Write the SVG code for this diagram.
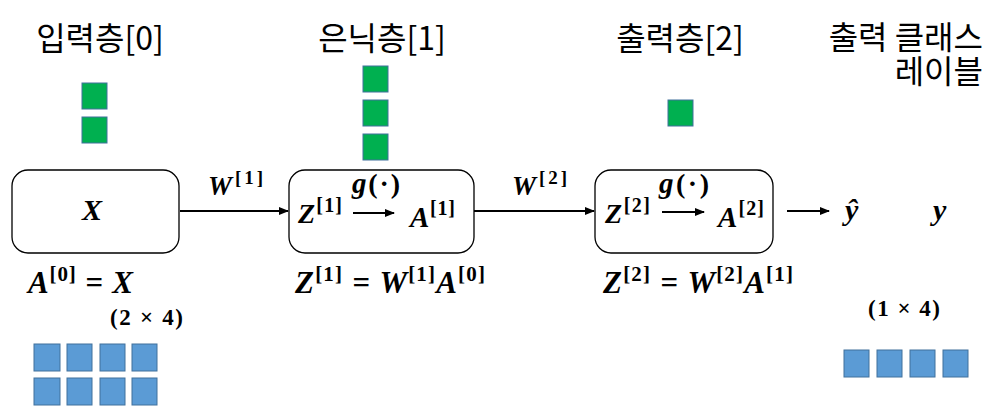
<svg xmlns="http://www.w3.org/2000/svg" width="1001" height="416" viewBox="0 0 1001 416">
<style>
.title{font-family:"Noto Sans CJK KR","Noto Sans",sans-serif;font-size:32px;fill:#000}
.m{font-family:"Liberation Serif","DejaVu Serif",serif;font-weight:bold;font-style:italic;fill:#000}
.n{font-family:"Liberation Serif","DejaVu Serif",serif;font-weight:bold;font-style:normal;fill:#000}
.box{fill:#fff;stroke:#000;stroke-width:1.3}
.g{fill:#00B050;stroke:#41719C;stroke-width:1}
.b{fill:#5B9BD5;stroke:#41719C;stroke-width:1}
.c{stroke:#000;stroke-width:2;fill:none}
</style>
<defs>
<marker id="ah" viewBox="0 0 10 10" refX="9" refY="5" markerWidth="5" markerHeight="5" orient="auto" markerUnits="strokeWidth">
<path d="M0,1 L10,5 L0,9 Z" fill="#000"/>
</marker>
</defs>
<rect width="1001" height="416" fill="#fff"/>
<g id="titles">
<text class="title" x="100" y="50" text-anchor="middle">입력층[0]</text>
<text class="title" x="382" y="50" text-anchor="middle">은닉층[1]</text>
<text class="title" x="680" y="50" text-anchor="middle">출력층[2]</text>
<text class="title" text-anchor="end"><tspan x="983" y="49">출력 클래스</tspan><tspan x="983" y="83">레이블</tspan></text>
</g>
<g id="input-neurons">
<rect class="g" x="82" y="83" width="25" height="26"/>
<rect class="g" x="82" y="117" width="25" height="26"/>
</g>
<g id="hidden-neurons">
<rect class="g" x="363" y="66" width="25" height="26"/>
<rect class="g" x="363" y="100" width="25" height="26"/>
<rect class="g" x="363" y="134" width="25" height="26"/>
</g>
<g id="output-neurons">
<rect class="g" x="668" y="100" width="25" height="26"/>
</g>
<g id="input-box">
<rect class="box" x="12" y="170" width="167" height="83" rx="16"/>
<text class="m" x="92" y="220" font-size="30" text-anchor="middle">X</text>
</g>
<g id="hidden-box">
<rect class="box" x="289" y="170" width="185" height="83" rx="16"/>
<text class="m" x="298" y="223" font-size="28" textLength="44">Z<tspan class="n" font-size="20" dy="-11">[1]</tspan></text>
<text class="m" x="352" y="193" font-size="29" textLength="48">g<tspan class="n" font-size="28">(·)</tspan></text>
<text class="m" x="410" y="227" font-size="29" textLength="45">A<tspan class="n" font-size="20" dy="-12">[1]</tspan></text>
</g>
<g id="output-box">
<rect class="box" x="595" y="170" width="178" height="83" rx="16"/>
<text class="m" x="605" y="223" font-size="28" textLength="45">Z<tspan class="n" font-size="20" dy="-11">[2]</tspan></text>
<text class="m" x="659" y="193" font-size="29" textLength="50">g<tspan class="n" font-size="28">(·)</tspan></text>
<text class="m" x="718" y="227" font-size="29" textLength="46">A<tspan class="n" font-size="20" dy="-12">[2]</tspan></text>
</g>
<g id="connectors">
<line class="c" x1="180" y1="211" x2="288" y2="211" marker-end="url(#ah)"/>
<line class="c" x1="474" y1="211" x2="594" y2="211" marker-end="url(#ah)"/>
<line class="c" x1="787" y1="211" x2="829" y2="211" marker-end="url(#ah)"/>
<line class="c" x1="353" y1="213" x2="394" y2="213" marker-end="url(#ah)"/>
<line class="c" x1="662" y1="212" x2="704" y2="212" marker-end="url(#ah)"/>
<text class="m" x="208" y="195" font-size="27" textLength="55">W<tspan class="n" font-size="19" dy="-11">[1]</tspan></text>
<text class="m" x="512" y="195" font-size="27" textLength="55">W<tspan class="n" font-size="19" dy="-11">[2]</tspan></text>
</g>
<g id="prediction">
<text class="m" x="845" y="220" font-size="30">ŷ</text>
</g>
<g id="label">
<text class="m" x="933" y="220" font-size="30">y</text>
</g>
<g id="formulas">
<text class="m" x="28" y="293" font-size="31" textLength="105">A<tspan class="n" font-size="21" dy="-12">[0]</tspan><tspan dy="12"> = X</tspan></text>
<text class="n" x="110" y="325" font-size="23" textLength="73">(2 × 4)</text>
<text class="m" x="295" y="293" font-size="31" textLength="190">Z<tspan class="n" font-size="21" dy="-12">[1]</tspan><tspan dy="12"> = W</tspan><tspan class="n" font-size="21" dy="-12">[1]</tspan><tspan dy="12">A</tspan><tspan class="n" font-size="21" dy="-12">[0]</tspan></text>
<text class="m" x="603" y="293" font-size="31" textLength="190">Z<tspan class="n" font-size="21" dy="-12">[2]</tspan><tspan dy="12"> = W</tspan><tspan class="n" font-size="21" dy="-12">[2]</tspan><tspan dy="12">A</tspan><tspan class="n" font-size="21" dy="-12">[1]</tspan></text>
<text class="n" x="868" y="316" font-size="23" textLength="72">(1 × 4)</text>
</g>
<g id="input-matrix">
<rect class="b" x="34" y="344" width="26" height="27"/>
<rect class="b" x="67" y="344" width="25" height="27"/>
<rect class="b" x="100" y="344" width="25" height="27"/>
<rect class="b" x="132" y="344" width="25" height="27"/>
<rect class="b" x="34" y="378" width="26" height="27"/>
<rect class="b" x="67" y="378" width="25" height="27"/>
<rect class="b" x="100" y="378" width="25" height="27"/>
<rect class="b" x="132" y="378" width="25" height="27"/>
</g>
<g id="output-matrix">
<rect class="b" x="844" y="350" width="25" height="27"/>
<rect class="b" x="877" y="350" width="25" height="27"/>
<rect class="b" x="910" y="350" width="25" height="27"/>
<rect class="b" x="943" y="350" width="25" height="27"/>
</g>
</svg>
